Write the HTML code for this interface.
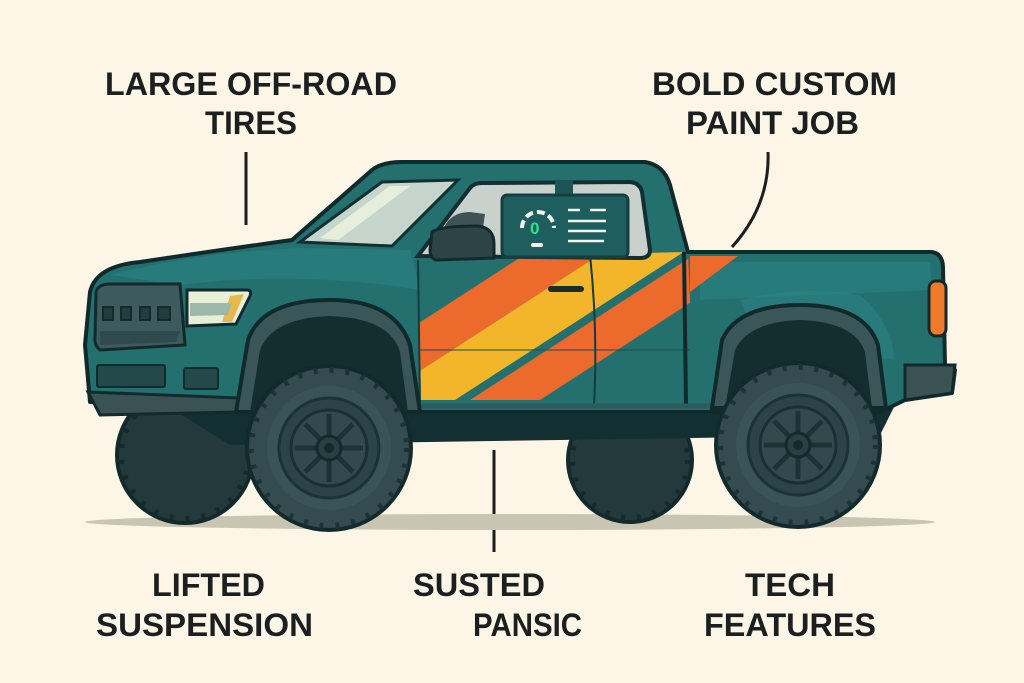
<!DOCTYPE html>
<html><head><meta charset="utf-8"><style>
html,body{margin:0;padding:0;background:#fdf6e7;}
svg{display:block;}
text{font-family:"Liberation Sans",sans-serif;font-weight:bold;fill:#1b1f20;}
</style></head><body>
<svg width="1024" height="683" viewBox="0 0 1024 683" xmlns="http://www.w3.org/2000/svg">
<rect width="1024" height="683" fill="#fdf6e7"/>
<defs>
<clipPath id="door"><path d="M418 258 L688 252 L690 300 L690 405 L420 405 Z"/></clipPath>
<g id="tire">
  <circle r="82" fill="#344b4f" stroke="#132a2d" stroke-width="4"/>
  <circle r="78" fill="none" stroke="#1c3336" stroke-width="6" stroke-dasharray="4 12"/>
  <circle r="62" fill="#3a5357"/>
  <circle r="50" fill="#2c4347" stroke="#1c3336" stroke-width="3"/>
  <circle r="38" fill="#34494d" stroke="#1a2f32" stroke-width="3"/>
  <g stroke="#1d3235" stroke-width="5">
    <line x1="0" y1="-34" x2="0" y2="34"/><line x1="-34" y1="0" x2="34" y2="0"/>
    <line x1="-24" y1="-24" x2="24" y2="24"/><line x1="-24" y1="24" x2="24" y2="-24"/>
  </g>
  <circle r="12" fill="#2a3f42" stroke="#15292c" stroke-width="3"/>
  <circle r="5" fill="#15292c"/>
</g>
</defs>

<text x="105" y="95" font-size="32" textLength="292" lengthAdjust="spacingAndGlyphs">LARGE OFF-ROAD</text>
<text x="205" y="134" font-size="32" textLength="92" lengthAdjust="spacingAndGlyphs">TIRES</text>
<text x="652" y="95" font-size="32" textLength="245" lengthAdjust="spacingAndGlyphs">BOLD CUSTOM</text>
<text x="686" y="134" font-size="32" textLength="173" lengthAdjust="spacingAndGlyphs">PAINT JOB</text>
<text x="152" y="596" font-size="32" textLength="113" lengthAdjust="spacingAndGlyphs">LIFTED</text>
<text x="96" y="636" font-size="32" textLength="217" lengthAdjust="spacingAndGlyphs">SUSPENSION</text>
<text x="413" y="596" font-size="32" textLength="132" lengthAdjust="spacingAndGlyphs">SUSTED</text>
<text x="473" y="636" font-size="32" textLength="109" lengthAdjust="spacingAndGlyphs">PANSIC</text>
<text x="745" y="596" font-size="32" textLength="90" lengthAdjust="spacingAndGlyphs">TECH</text>
<text x="704" y="636" font-size="32" textLength="172" lengthAdjust="spacingAndGlyphs">FEATURES</text>

<line x1="246" y1="152" x2="246" y2="225" stroke="#1b1f20" stroke-width="3"/>
<path d="M768 152 Q770 205 732 247" fill="none" stroke="#1b1f20" stroke-width="3"/>
<line x1="494" y1="450" x2="494" y2="552" stroke="#1b1f20" stroke-width="3"/>

<ellipse cx="510" cy="522" rx="425" ry="8" fill="#c8c6b2"/>

<circle cx="185" cy="455" r="68" fill="#24393c" stroke="#132a2d" stroke-width="4"/>
<circle cx="185" cy="455" r="64" fill="none" stroke="#18292b" stroke-width="6" stroke-dasharray="4 12"/>
<circle cx="630" cy="460" r="62" fill="#24393c" stroke="#132a2d" stroke-width="4"/>
<circle cx="630" cy="460" r="58" fill="none" stroke="#18292b" stroke-width="6" stroke-dasharray="4 12"/>

<path d="M150 395 L900 395 L880 435 L560 440 L230 445 Z" fill="#142f31"/>

<path d="M85 345 L90 292 Q96 266 140 262 Q220 250 292 240 L372 170 Q382 162 402 162 L645 162 Q664 165 670 185 L688 252 L932 252 Q943 254 943 268 L945 365 L955 370 L952 393 L905 400 L880 412 L420 412 L300 410 L240 408 L90 402 Z" fill="#24706f" stroke="#102a2b" stroke-width="4" stroke-linejoin="round"/>
<path d="M110 275 Q200 252 300 248 L410 250 L420 290 Q300 270 180 285 Z" fill="#2a8080" opacity="0.7"/>
<path d="M700 262 L930 262 L932 290 L700 300 Z" fill="#2a8383" opacity="0.6"/>
<path d="M740 300 Q800 285 860 295 Q890 320 895 360 L760 340 Z" fill="#2b8585" opacity="0.5"/>

<g clip-path="url(#door)">
  <path d="M300 400 L375 400 L650 222 L575 222 Z" fill="#ec6a2c"/>
  <path d="M375 400 L455 400 L730 222 L650 222 Z" fill="#f3b52a"/>
  <path d="M470 400 L540 400 L815 222 L745 222 Z" fill="#ec6a2c"/>
</g>
<path d="M690 256 L738 256 L690 292 Z" fill="#ec6a2c"/>
<line x1="418" y1="350" x2="690" y2="350" stroke="#1b4f50" stroke-width="2" opacity="0.5"/>
<path d="M590 255 Q598 330 594 405" fill="none" stroke="#173a3b" stroke-width="2"/>
<path d="M418 260 L420 405" fill="none" stroke="#173a3b" stroke-width="2"/>
<path d="M684 252 L686 405" fill="none" stroke="#102a2b" stroke-width="4"/>
<rect x="548" y="286" width="36" height="6" rx="3" fill="#1b2a2b"/>
<line x1="420" y1="406" x2="880" y2="406" stroke="#2b5c5e" stroke-width="5"/>

<path d="M300 242 L382 182 L458 180 L392 246 Z" fill="#c6d6cc" stroke="#123031" stroke-width="3"/>
<path d="M320 238 L390 186 L410 186 L338 240 Z" fill="#e6efde"/>
<path d="M418 256 L470 188 Q474 183 482 183 L630 182 Q640 183 642 192 L650 250 Q650 258 640 258 Z" fill="#c9d1cc" stroke="#123031" stroke-width="4"/>
<rect x="555" y="180" width="18" height="14" fill="#1d5556"/>
<rect x="502" y="195" width="126" height="62" rx="5" fill="#1f5e5e" stroke="#163e3f" stroke-width="3"/>
<path d="M522 228 A16 16 0 1 1 554 228" fill="none" stroke="#f4f4ee" stroke-width="4" stroke-dasharray="8 4"/>
<text x="530" y="234" font-size="17" style="fill:#2fe08a">0</text>
<rect x="531" y="243" width="12" height="4" rx="2" fill="#f4f4ee"/>
<g stroke="#f4f4ee" stroke-width="2.5">
  <line x1="568" y1="210" x2="580" y2="210"/><line x1="590" y1="210" x2="606" y2="210"/>
  <line x1="568" y1="221" x2="606" y2="221"/><line x1="568" y1="231" x2="606" y2="231"/>
  <line x1="568" y1="241" x2="604" y2="241"/>
</g>
<path d="M440 240 Q445 212 470 212 L485 214 L480 248 Z" fill="#3f5355"/>
<path d="M432 232 Q440 226 478 226 Q494 228 494 244 L494 258 L436 260 Q430 258 430 250 Z" fill="#2d4447" stroke="#132a2d" stroke-width="3"/>

<path d="M96 292 Q98 284 110 284 L180 284 L185 345 L100 350 Q94 345 95 338 Z" fill="#3e5a5c" stroke="#132a2d" stroke-width="3"/>
<g fill="#243c3e" stroke="#132a2d" stroke-width="2">
  <rect x="103" y="307" width="10" height="13"/><rect x="121" y="307" width="10" height="13"/>
  <rect x="140" y="307" width="10" height="13"/><rect x="158" y="307" width="12" height="13"/>
</g>
<path d="M100 331 L180 331 L176 342 L100 345 Z" fill="#2f4a4c"/>
<path d="M187 290 L248 290 Q252 291 250 296 L236 324 L187 326 Z" fill="#e8efd8" stroke="#132a2d" stroke-width="3"/>
<path d="M230 296 L244 294 L232 322 L222 322 Z" fill="#e9b84a"/>
<path d="M190 303 L232 303 L228 315 L190 316 Z" fill="#9bb8a8"/>
<rect x="97" y="365" width="68" height="22" rx="2" fill="#24494b" stroke="#132a2d" stroke-width="2"/>
<rect x="184" y="368" width="34" height="21" rx="2" fill="#24494b" stroke="#132a2d" stroke-width="2"/>
<path d="M88 392 L240 398 L238 412 L100 415 Z" fill="#3a5254" stroke="#132a2d" stroke-width="3"/>

<path d="M236 412 L248 340 Q262 300 330 300 Q395 300 410 345 L420 412 Z" fill="#3b5658" stroke="#102a2b" stroke-width="4"/>
<path d="M250 412 L260 350 Q272 318 330 316 Q390 318 400 352 L408 412 Z" fill="#142d2f"/>
<path d="M712 408 L722 340 Q738 305 800 305 Q865 305 878 345 L886 408 Z" fill="#3b5658" stroke="#102a2b" stroke-width="4"/>
<path d="M725 408 L735 350 Q748 322 800 320 Q855 322 865 352 L872 408 Z" fill="#142d2f"/>
<path d="M905 365 L955 365 L952 393 L905 400 Z" fill="#3a5254" stroke="#102a2b" stroke-width="3"/>
<rect x="929" y="281" width="17" height="55" rx="7" fill="#ef7a2a" stroke="#102a2b" stroke-width="3"/>

<use href="#tire" x="329" y="448"/>
<use href="#tire" x="798" y="445"/>
</svg>
</body></html>
